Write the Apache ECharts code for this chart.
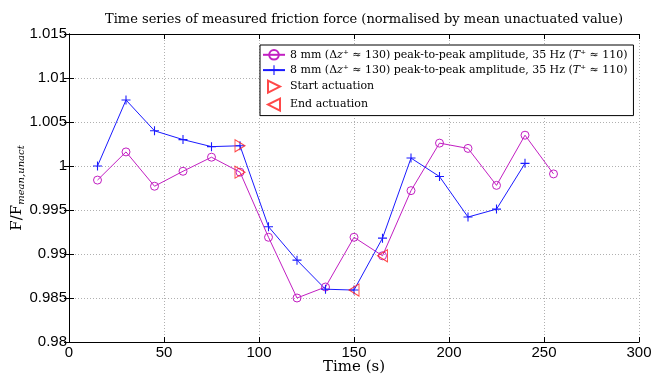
<!DOCTYPE html>
<html>
<head>
<meta charset="utf-8">
<script src="https://cdn.jsdelivr.net/npm/echarts@6/dist/echarts.min.js"></script>
<style>html,body{margin:0;padding:0;background:#fff}#c{width:658px;height:376px}</style>
</head>
<body>
<div id="c"></div>
<script>
// ---- data ----
const timeA = [15,30,45,60,75,90,105,120,135,150,165,180,195,210,225,240,255];
const valuesA = [0.9984,1.0016,0.9977,0.9994,1.0010,0.9993,0.9919,0.9850,0.98625,0.9919,0.9898,0.9972,1.0026,1.0020,0.9978,1.0035,0.9991];
const timeB = [15,30,45,60,75,90,105,120,135,150,165,180,195,210,225,240];
const valuesB = [1.0000,1.0075,1.0040,1.0030,1.0022,1.0023,0.9931,0.9893,0.9860,0.9859,0.9918,1.0009,0.9988,0.9942,0.9951,1.0003];
const startTimes = [90,90];
const startValues = [1.0023,0.9993];
const endTimes = [150,165];
const endValues = [0.9859,0.9898];
const seriesKeys = ['magenta','blue','start','end'];
const legendLabels = {
  magenta: '8 mm (Δ{i|z}⁺ ≈ 130) peak-to-peak amplitude, 35 Hz ({i|T}⁺ ≈ 110)',
  blue: '8 mm (Δ{i|z}⁺ ≈ 130) peak-to-peak amplitude, 35 Hz ({i|T}⁺ ≈ 110)',
  start: 'Start actuation',
  end: 'End actuation'
};
const titleText = 'Time series of measured friction force (normalised by mean unactuated value)';
const xTicks = [0,50,100,150,200,250,300];
const yTicks = [0.98,0.985,0.99,0.995,1,1.005,1.01,1.015];

const zip = (xs, ys) => xs.map((x,i)=>[x, ys[i]]);
const serif = 'DejaVu Serif';
const sans = 'Liberation Sans';
const plusPath = 'path://M4.4,0H5.6V4.4H10V5.6H5.6V10H4.4V5.6H0V4.4H4.4Z';

const chart = echarts.init(document.getElementById('c'), null, {renderer:'canvas'});
const fmtY = v => String(parseFloat(v.toFixed(3)));
const baseX = {type:'value', min:xTicks[0], max:xTicks[xTicks.length-1], interval:50};
const baseY = {type:'value', min:yTicks[0], max:yTicks[yTicks.length-1], interval:0.005};
chart.setOption({
  animation:false,
  backgroundColor:'#fff',
  title:{text:titleText, left:359, top:8, textAlign:'center',
    textStyle:{fontFamily:serif, fontSize:13, fontWeight:'normal', color:'#000'}},
  grid:{left:69, right:19, top:34, bottom:34, containLabel:false, outerBoundsMode:'none'},
  legend:{
    data:seriesKeys, orient:'vertical', left:260, top:45,
    backgroundColor:'#fff', borderColor:'#000', borderWidth:1, borderRadius:0,
    padding:[4,6,4,2], itemGap:4, itemWidth:22, itemHeight:12,
    formatter: n => legendLabels[n],
    textStyle:{fontFamily:serif, fontSize:11, color:'#000',
      rich:{i:{fontFamily:serif, fontStyle:'italic', fontSize:11}}}
  },
  xAxis:[
    Object.assign({}, baseX, {position:'bottom',
      name:'Time (s)', nameLocation:'middle', nameGap:18, nameMoveOverlap:false,
      nameTextStyle:{fontFamily:serif, fontSize:15, color:'#000'},
      axisLine:{lineStyle:{color:'#000', width:1}},
      axisTick:{inside:true, length:5, lineStyle:{color:'#000'}},
      axisLabel:{fontFamily:sans, fontSize:15, color:'#000', margin:3},
      splitLine:{show:true, lineStyle:{color:'#b0b0b0', type:[1,2], width:1}}}),
    Object.assign({}, baseX, {position:'top',
      axisLine:{lineStyle:{color:'#000', width:1}},
      axisTick:{inside:true, length:5, lineStyle:{color:'#000'}},
      axisLabel:{show:false}, splitLine:{show:false}})
  ],
  yAxis:[
    Object.assign({}, baseY, {position:'left',
      name:'{a|F/F}{b|mean,unact}', nameLocation:'middle', nameGap:43, nameRotate:90, nameMoveOverlap:false,
      nameTextStyle:{fontFamily:serif, fontSize:14, color:'#000',
        rich:{a:{fontFamily:serif, fontSize:15, color:'#000'},
              b:{fontFamily:serif, fontStyle:'italic', fontSize:10, color:'#000', padding:[8,0,0,0]}}},
      axisLine:{lineStyle:{color:'#000', width:1}},
      axisTick:{inside:true, length:5, lineStyle:{color:'#000'}},
      axisLabel:{fontFamily:sans, fontSize:15, color:'#000', margin:2, formatter:fmtY},
      splitLine:{show:true, lineStyle:{color:'#b0b0b0', type:[1,2], width:1}}}),
    Object.assign({}, baseY, {position:'right',
      axisLine:{show:true, lineStyle:{color:'#000', width:1}},
      axisTick:{show:true, inside:true, length:5, lineStyle:{color:'#000'}},
      axisLabel:{show:false}, splitLine:{show:false}})
  ],
  series:[
    {name:'magenta', type:'line', data:zip(timeA, valuesA), xAxisIndex:0, yAxisIndex:0,
      symbol:'circle', symbolSize:8, showAllSymbol:true,
      lineStyle:{color:'#c21fc2', width:1},
      itemStyle:{color:'rgba(0,0,0,0)', borderColor:'#c21fc2', borderWidth:1}, z:3},
    {name:'blue', type:'line', data:zip(timeB, valuesB), xAxisIndex:0, yAxisIndex:0,
      symbol:plusPath, symbolSize:9, showAllSymbol:true,
      lineStyle:{color:'#1a1aff', width:1},
      itemStyle:{color:'#1a1aff'}, z:3},
    {name:'start', type:'scatter', data:zip(startTimes, startValues),
      symbol:'path://M0,0L10,5L0,10Z', symbolSize:[10,12],
      itemStyle:{color:'rgba(0,0,0,0)', borderColor:'#ff1a1a', borderWidth:1}, z:4},
    {name:'end', type:'scatter', data:zip(endTimes, endValues),
      symbol:'path://M10,0L0,5L10,10Z', symbolSize:[10,12],
      itemStyle:{color:'rgba(0,0,0,0)', borderColor:'#ff1a1a', borderWidth:1}, z:4}
  ]
});
</script>
</body>
</html>
